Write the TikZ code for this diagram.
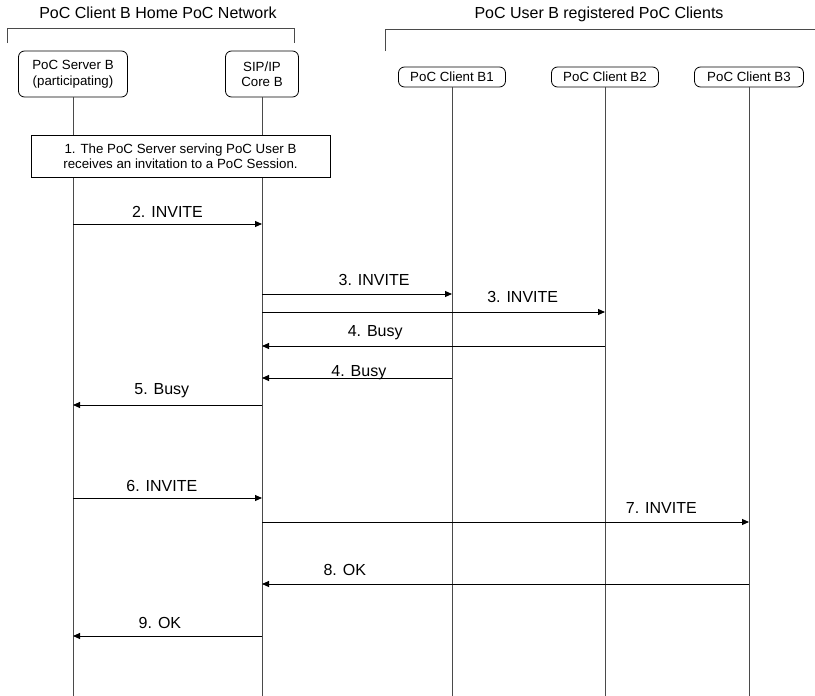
\documentclass[tikz,border=0pt]{standalone}
\usepackage{fontspec}
\setmainfont{Liberation Sans}
\usetikzlibrary{arrows.meta,positioning}
\definecolor{seqInk}{HTML}{000000}
\definecolor{seqLife}{HTML}{4A4A4A}
\tikzset{
  actor/.style    ={draw=seqInk,line width=0.8pt,rounded corners=6pt,align=center,
                    inner sep=0pt,font=\fontsize{13.3}{15.5}\selectfont},
  actorbig/.style ={actor,minimum width=109pt,minimum height=46pt},
  actorcli/.style ={actor,minimum width=107pt,minimum height=20pt},
  notebox/.style  ={draw=seqInk,line width=0.8pt,fill=white,align=center,inner sep=0pt,
                    minimum width=299pt,minimum height=42pt,
                    font=\fontsize{13.3}{15}\selectfont},
  life/.style     ={seqLife,line width=0.8pt},
  grp/.style      ={seqLife,line width=0.8pt},
  msg/.style      ={-{Triangle[length=7pt,width=6pt]},seqInk,line width=0.9pt},
  lbl/.style      ={font=\fontsize{16}{18}\selectfont,inner sep=0pt,anchor=base,yshift=9pt},
  ttl/.style      ={font=\fontsize{16}{18}\selectfont,inner sep=0pt,anchor=base},
}
\begin{document}
\begin{tikzpicture}[x=1pt,y=-1pt]
\useasboundingbox (0,0) rectangle (815,696);

% group headings
\node[ttl] (homeT) at (158,18.5) {PoC Client B Home PoC Network};
\node[ttl] (cliT) at (599,18.5) {PoC User B registered PoC Clients};
\draw[grp] (7,43) |- (294,28) -- (294,43);
\draw[grp] (385,51) |- (815,29);

% actors
\node[actorbig] (srvB) at (73,74) {PoC Server B\\(participating)};
\node[actor,minimum width=73pt,minimum height=46pt] (coreB) at (262,74) {SIP/IP\\Core B};
\node[actorcli] (cliB1) at (452,77) {PoC Client B1};
\node[actorcli] (cliB2) at (605,77) {PoC Client B2};
\node[actorcli,minimum width=109pt] (cliB3) at (749,77) {PoC Client B3};

% lifelines
\coordinate (bot) at (0,696);
\foreach \a in {srvB,coreB,cliB1,cliB2,cliB3}
  \draw[life] (\a.south) -- (\a |- bot);

% step 1
\node[notebox] (inv) at (180.5,156) {1. The PoC Server serving PoC User B\\receives an invitation to a PoC Session.};

% messages
\coordinate (m2) at (0,224);
\coordinate (m3a) at (0,294);
\coordinate (m3b) at (0,312);
\coordinate (m4a) at (0,346);
\coordinate (m4b) at (0,378);
\coordinate (m5) at (0,405);
\coordinate (m6) at (0,498);
\coordinate (m7) at (0,522);
\coordinate (m8) at (0,584);
\coordinate (m9) at (0,636);

\draw[msg] (srvB |- m2) -- (coreB |- m2) node[lbl,pos=.5,yshift=-2pt] {2. INVITE};
\draw[msg] (coreB |- m3a) -- (cliB1 |- m3a) node[lbl,pos=.59] {3. INVITE};
\draw[msg] (coreB |- m3b) -- (cliB2 |- m3b) node[lbl,pos=.76,yshift=1pt] {3. INVITE};
\draw[msg] (cliB2 |- m4a) -- (coreB |- m4a) node[lbl,pos=.67,yshift=1pt] {4. Busy};
\draw[msg] (cliB1 |- m4b) -- (coreB |- m4b) node[lbl,pos=.49,yshift=-7pt] {4. Busy};
\draw[msg] (coreB |- m5) -- (srvB |- m5) node[lbl,pos=.53,yshift=2pt] {5. Busy};
\draw[msg] (srvB |- m6) -- (coreB |- m6) node[lbl,pos=.47,yshift=-2pt] {6. INVITE};
\draw[msg] (coreB |- m7) -- (cliB3 |- m7) node[lbl,pos=.82] {7. INVITE};
\draw[msg] (cliB3 |- m8) -- (coreB |- m8) node[lbl,pos=.83] {8. OK};
\draw[msg] (coreB |- m9) -- (srvB |- m9) node[lbl,pos=.54,yshift=-1pt] {9. OK};
\end{tikzpicture}
\end{document}
